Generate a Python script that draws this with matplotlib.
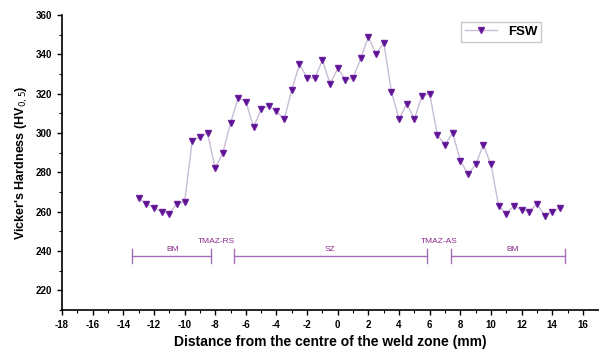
import matplotlib.pyplot as plt
import numpy as np

plt.rcParams['font.family'] = ['Liberation Sans', 'DejaVu Sans']
plt.rcParams['axes.unicode_minus'] = False

# distance (mm) and hardness values
dist = [-13.0, -12.5, -12.0, -11.5, -11.0, -10.5, -10.0, -9.5, -9.0, -8.5,
        -8.0, -7.5, -7.0, -6.5, -6.0, -5.5, -5.0, -4.5, -4.0, -3.5,
        -3.0, -2.5, -2.0, -1.5, -1.0, -0.5, 0.0, 0.5, 1.0, 1.5,
        2.0, 2.5, 3.0, 3.5, 4.0, 4.5, 5.0, 5.5, 6.0, 6.5,
        7.0, 7.5, 8.0, 8.5, 9.0, 9.5, 10.0, 10.5, 11.0, 11.5,
        12.0, 12.5, 13.0, 13.5, 14.0, 14.5]
hv = [267, 264, 262, 260, 259, 264, 265, 296, 298, 300,
      282, 290, 305, 318, 316, 303, 312, 314, 311, 307,
      322, 335, 328, 328, 337, 325, 333, 327, 328, 338,
      349, 340, 346, 321, 307, 315, 307, 319, 320, 299,
      294, 300, 286, 279, 284, 294, 284, 263, 259, 263,
      261, 260, 264, 258, 260, 262]

# weld zones
zone_names = ["BM", "TMAZ-RS", "SZ", "TMAZ-AS", "BM"]
zone_start = [-13.4, None, -6.75, None, 7.4]
zone_end = [-8.3, None, 5.8, None, 14.85]
zone_label_x = [-10.8, -7.9, -0.5, 6.6, 11.4]
zone_label_y = [240.5, 245, 240.5, 245, 240.5]

fig = plt.figure(figsize=(5.99, 3.51), dpi=100)
ax = fig.add_axes([0.1035, 0.117, 0.8965, 0.84])

ax.plot(dist, hv, color='#c9bcd6', lw=1.0, marker='v', ms=5,
        mfc='#5a0f8c', mec='#6a1fa0', label='FSW')

bar_y = 237.5
for s, e in zip(zone_start, zone_end):
    if s is None:
        continue
    ax.plot([s, e], [bar_y, bar_y], color='#a56fb8', lw=1.0)
    ax.plot([s, s], [bar_y - 3.5, bar_y + 3.5], color='#a56fb8', lw=1.0)
    ax.plot([e, e], [bar_y - 3.5, bar_y + 3.5], color='#a56fb8', lw=1.0)
for name, lx, ly in zip(zone_names, zone_label_x, zone_label_y):
    ax.text(lx, ly, name, color='#8b2a8b', fontsize=6, ha='center', va='center')

ax.set_xlim(-18, 17.05)
ax.set_ylim(210, 360)
ax.set_xticks(np.arange(-18, 17, 2))
ax.set_xticks(np.arange(-18, 17, 1), minor=True)
ax.set_yticks(np.arange(220, 361, 20))
ax.set_yticks(np.arange(210, 361, 10), minor=True)
ax.spines['top'].set_visible(False)
ax.spines['right'].set_visible(False)
ax.spines['left'].set_linewidth(1.2)
ax.spines['bottom'].set_linewidth(1.2)
ax.tick_params(which='major', direction='out', length=3.5, width=1, labelsize=7)
ax.tick_params(which='minor', direction='out', length=2, width=0.8)
for lab in ax.get_xticklabels() + ax.get_yticklabels():
    lab.set_fontweight('bold')

ax.set_xlabel("Distance from the centre of the weld zone (mm)", fontsize=10, fontweight='bold')
ax.set_ylabel("Vicker's Hardness (HV$_{0,5}$)", fontsize=9, fontweight='bold')

leg = ax.legend(loc='upper right', bbox_to_anchor=(0.905, 1.0),
                prop={'weight': 'bold', 'size': 9.5}, fancybox=False,
                edgecolor='#bbbbbb', handlelength=2.5, borderpad=0.3)

fig.savefig("out.png", dpi=100)
